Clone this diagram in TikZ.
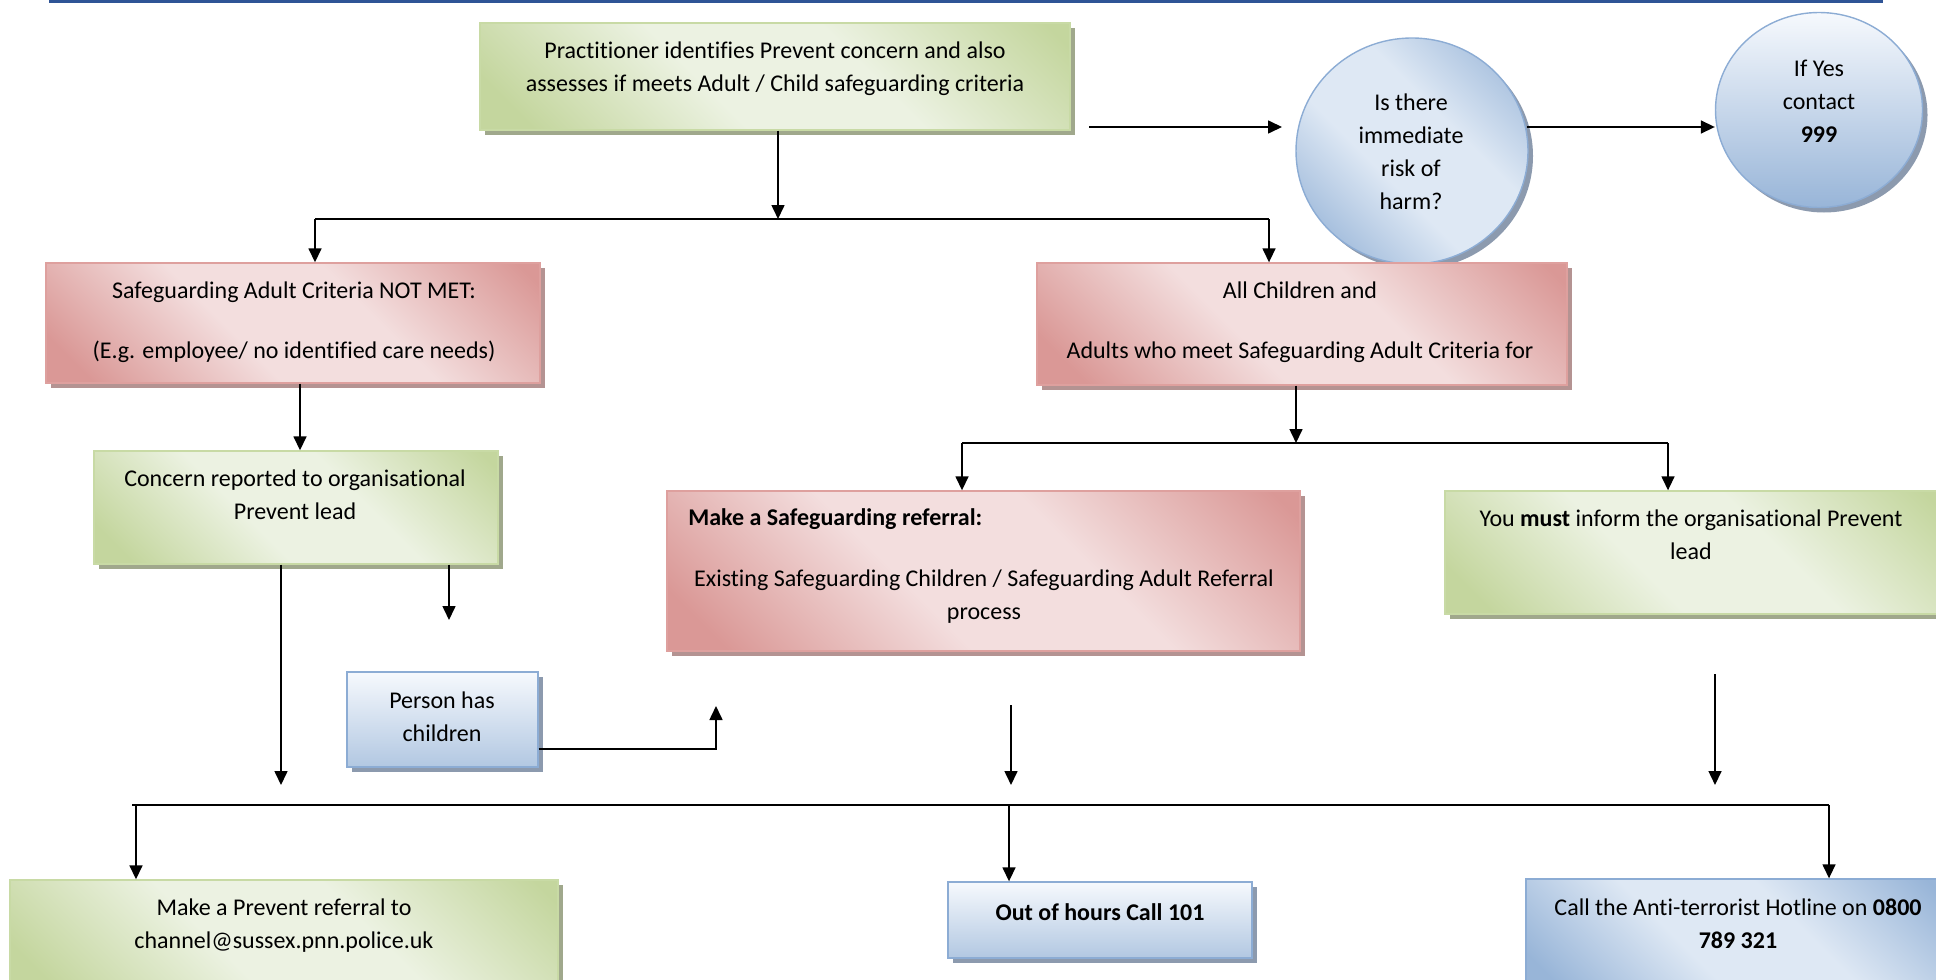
\documentclass[tikz,border=0pt]{standalone}
\usepackage{fontspec}
\setmainfont{Carlito}[Ligatures={NoCommon}]
\usetikzlibrary{arrows.meta,shapes.geometric,shadows,fit,calc}

\definecolor{gL}{RGB}{236,242,226}
\definecolor{gD}{RGB}{196,214,158}
\definecolor{gB}{RGB}{200,218,165}
\definecolor{gS}{RGB}{160,168,140}
\definecolor{rL}{RGB}{243,222,222}
\definecolor{rD}{RGB}{218,152,150}
\definecolor{rB}{RGB}{222,160,158}
\definecolor{rS}{RGB}{180,147,146}
\definecolor{bL}{RGB}{222,232,244}
\definecolor{bD}{RGB}{152,181,216}
\definecolor{bB}{RGB}{140,172,212}
\definecolor{bS}{RGB}{140,154,174}
\definecolor{bW}{RGB}{246,249,253}
\definecolor{topblue}{RGB}{47,84,150}

\pgfdeclarehorizontalshading{gband}{100bp}{color(0bp)=(gD); color(20bp)=(gD); color(42bp)=(gL); color(60bp)=(gL); color(83bp)=(gD); color(100bp)=(gD)}
\pgfdeclarehorizontalshading{rband}{100bp}{color(0bp)=(rD); color(20bp)=(rD); color(42bp)=(rL); color(60bp)=(rL); color(83bp)=(rD); color(100bp)=(rD)}
\pgfdeclarehorizontalshading{bband}{100bp}{color(0bp)=(bD); color(20bp)=(bD); color(42bp)=(bL); color(60bp)=(bL); color(83bp)=(bD); color(100bp)=(bD)}

\tikzset{
  gbox/.style={draw=gB, line width=0.7pt, shading=gband, shading angle=45, inner sep=0,
    drop shadow={shadow xshift=2.5pt, shadow yshift=-2.5pt, fill=gS, opacity=1}},
  rbox/.style={draw=rB, line width=0.7pt, shading=rband, shading angle=45, inner sep=0,
    drop shadow={shadow xshift=2.5pt, shadow yshift=-2.5pt, fill=rS, opacity=1}},
  bbox/.style={draw=bB, line width=0.7pt, shading=bband, shading angle=45, inner sep=0,
    drop shadow={shadow xshift=2.5pt, shadow yshift=-2.5pt, fill=bS, opacity=1}},
  vbox/.style={draw=bB, line width=0.7pt, top color=bW, bottom color=bD!75!white, inner sep=0,
    drop shadow={shadow xshift=2.5pt, shadow yshift=-2.5pt, fill=bS, opacity=1}},
  circ/.style={ellipse, draw=bB, line width=0.7pt, inner sep=0,
    drop shadow={shadow xshift=2.5pt, shadow yshift=-2.5pt, fill=bS, opacity=1}},
  txt/.style={align=center, inner sep=0, font=\fontsize{12}{16.5}\selectfont},
  ln/.style={draw=black, line width=0.8pt},
  arr/.style={draw=black, line width=0.8pt, -{Triangle[length=7pt,width=6.5pt]}},
}

\begin{document}
\begin{tikzpicture}[x=0.5pt, y=-0.5pt]
\useasboundingbox (0,0) rectangle (1936,979);
\clip (0,0) rectangle (1936,979);

% top rule
\draw[topblue, line width=1.3pt] (49,1.5) -- (1883,1.5);

% circles
\node[circ, shading=bband, shading angle=45, minimum width=116pt, minimum height=113pt] (c1) at (1412,151) {};
\node[circ, top color=bW, bottom color=bD, minimum width=103.5pt, minimum height=97.5pt] (c2) at (1819,110) {};

% boxes
\node[gbox, fit={(480,23)(1070,130)}] (b1) {};
\node[rbox, fit={(46,263)(540,383)}] (sa) {};
\node[rbox, fit={(1037,263)(1567,385)}] (ac) {};
\node[gbox, fit={(94,451)(498,564)}] (co) {};
\node[vbox, fit={(347,672)(538,767)}] (ph) {};
\node[rbox, fit={(667,491)(1300,651)}] (sr) {};
\node[gbox, fit={(1445,491)(1945,614)}] (ym) {};
\node[gbox, fit={(10,880)(558,995)}] (pr) {};
\node[vbox, fit={(948,882)(1252,958)}] (oh) {};
\node[bbox, fit={(1526,879)(1945,995)}] (ht) {};

% texts
\node[txt] (t1) at (775,69) {Practitioner identifies Prevent concern and also\\assesses if meets Adult / Child safeguarding criteria};
\node[txt] (tc1) at (1411,152) {Is there\\immediate\\risk of\\harm?};
\node[txt] (tc2) at (1819,101) {If Yes\\contact\\\textbf{999}};
\node[txt] (tsa) at (294,322) {Safeguarding Adult Criteria NOT MET:\\[13.5pt](E.g. employee/ no identified care needs)};
\node[txt] (tac) at (1300,322) {All Children and\\[13.5pt]Adults who meet Safeguarding Adult Criteria for};
\node[txt] (tco) at (295,495) {Concern reported to organisational\\Prevent lead};
\node[txt] (tph) at (442,717) {Person has\\children};
\node[txt, anchor=base west] (tsr1) at (688,525) {\textbf{Make a Safeguarding referral:}};
\node[txt] (tsr2) at (984,597) {Existing Safeguarding Children / Safeguarding Adult Referral\\process};
\node[txt] (tym) at (1691,535) {You \textbf{must} inform the organisational Prevent\\lead};
\node[txt] (tpr) at (284,926) {Make a Prevent referral to\\channel@sussex.pnn.police.uk};
\node[txt] (toh) at (1100,912) {\textbf{Out of hours Call 101}};
\node[txt] (tht) at (1738,924) {Call the Anti-terrorist Hotline on \textbf{0800}\\\textbf{789 321}};

% connectors
\coordinate (j1) at (778,219);
\coordinate (jL) at (315,219);
\coordinate (jR) at (1269,219);
\draw[arr] (b1.south -| j1) -- (j1);
\draw[ln] (jL) -- (jR);
\draw[arr] (jL) -- (jL |- sa.north);
\draw[arr] (jR) -- (jR |- ac.north);

\coordinate (r1s) at (1089,127);
\coordinate (r1e) at (1282,127);
\draw[arr] (r1s) -- (r1e);
\coordinate (r2s) at (1527,127);
\draw[arr] (r2s) -- (c2.west |- r2s);

\coordinate (x300) at (300,0);
\draw[arr] (sa.south -| x300) -- (co.north -| x300);

\coordinate (d1) at (281,785);
\draw[arr] (co.south -| d1) -- (d1);
\coordinate (d2) at (449,620);
\draw[arr] (co.south -| d2) -- (d2);

\coordinate (pc) at (716,749);
\coordinate (pe) at (716,706);
\draw[arr] (ph.east |- pc) -- (pc) -- (pe);

\coordinate (j2) at (1296,443);
\coordinate (j2L) at (962,443);
\coordinate (j2R) at (1668,443);
\draw[arr] (ac.south -| j2) -- (j2);
\draw[ln] (j2L) -- (j2R);
\draw[arr] (j2L) -- (j2L |- sr.north);
\draw[arr] (j2R) -- (j2R |- ym.north);

\coordinate (d3s) at (1011,705);
\coordinate (d3) at (1011,785);
\draw[arr] (d3s) -- (d3);
\coordinate (d4s) at (1715,674);
\coordinate (d4) at (1715,785);
\draw[arr] (d4s) -- (d4);

\coordinate (bl) at (132,805);
\coordinate (br) at (1829,805);
\coordinate (bm) at (1009,805);
\coordinate (bl2) at (136,805);
\draw[ln] (bl) -- (br);
\draw[arr] (bl2) -- (bl2 |- pr.north);
\draw[arr] (bm) -- (bm |- oh.north);
\draw[arr] (br) -- (br |- ht.north);
\end{tikzpicture}
\end{document}
